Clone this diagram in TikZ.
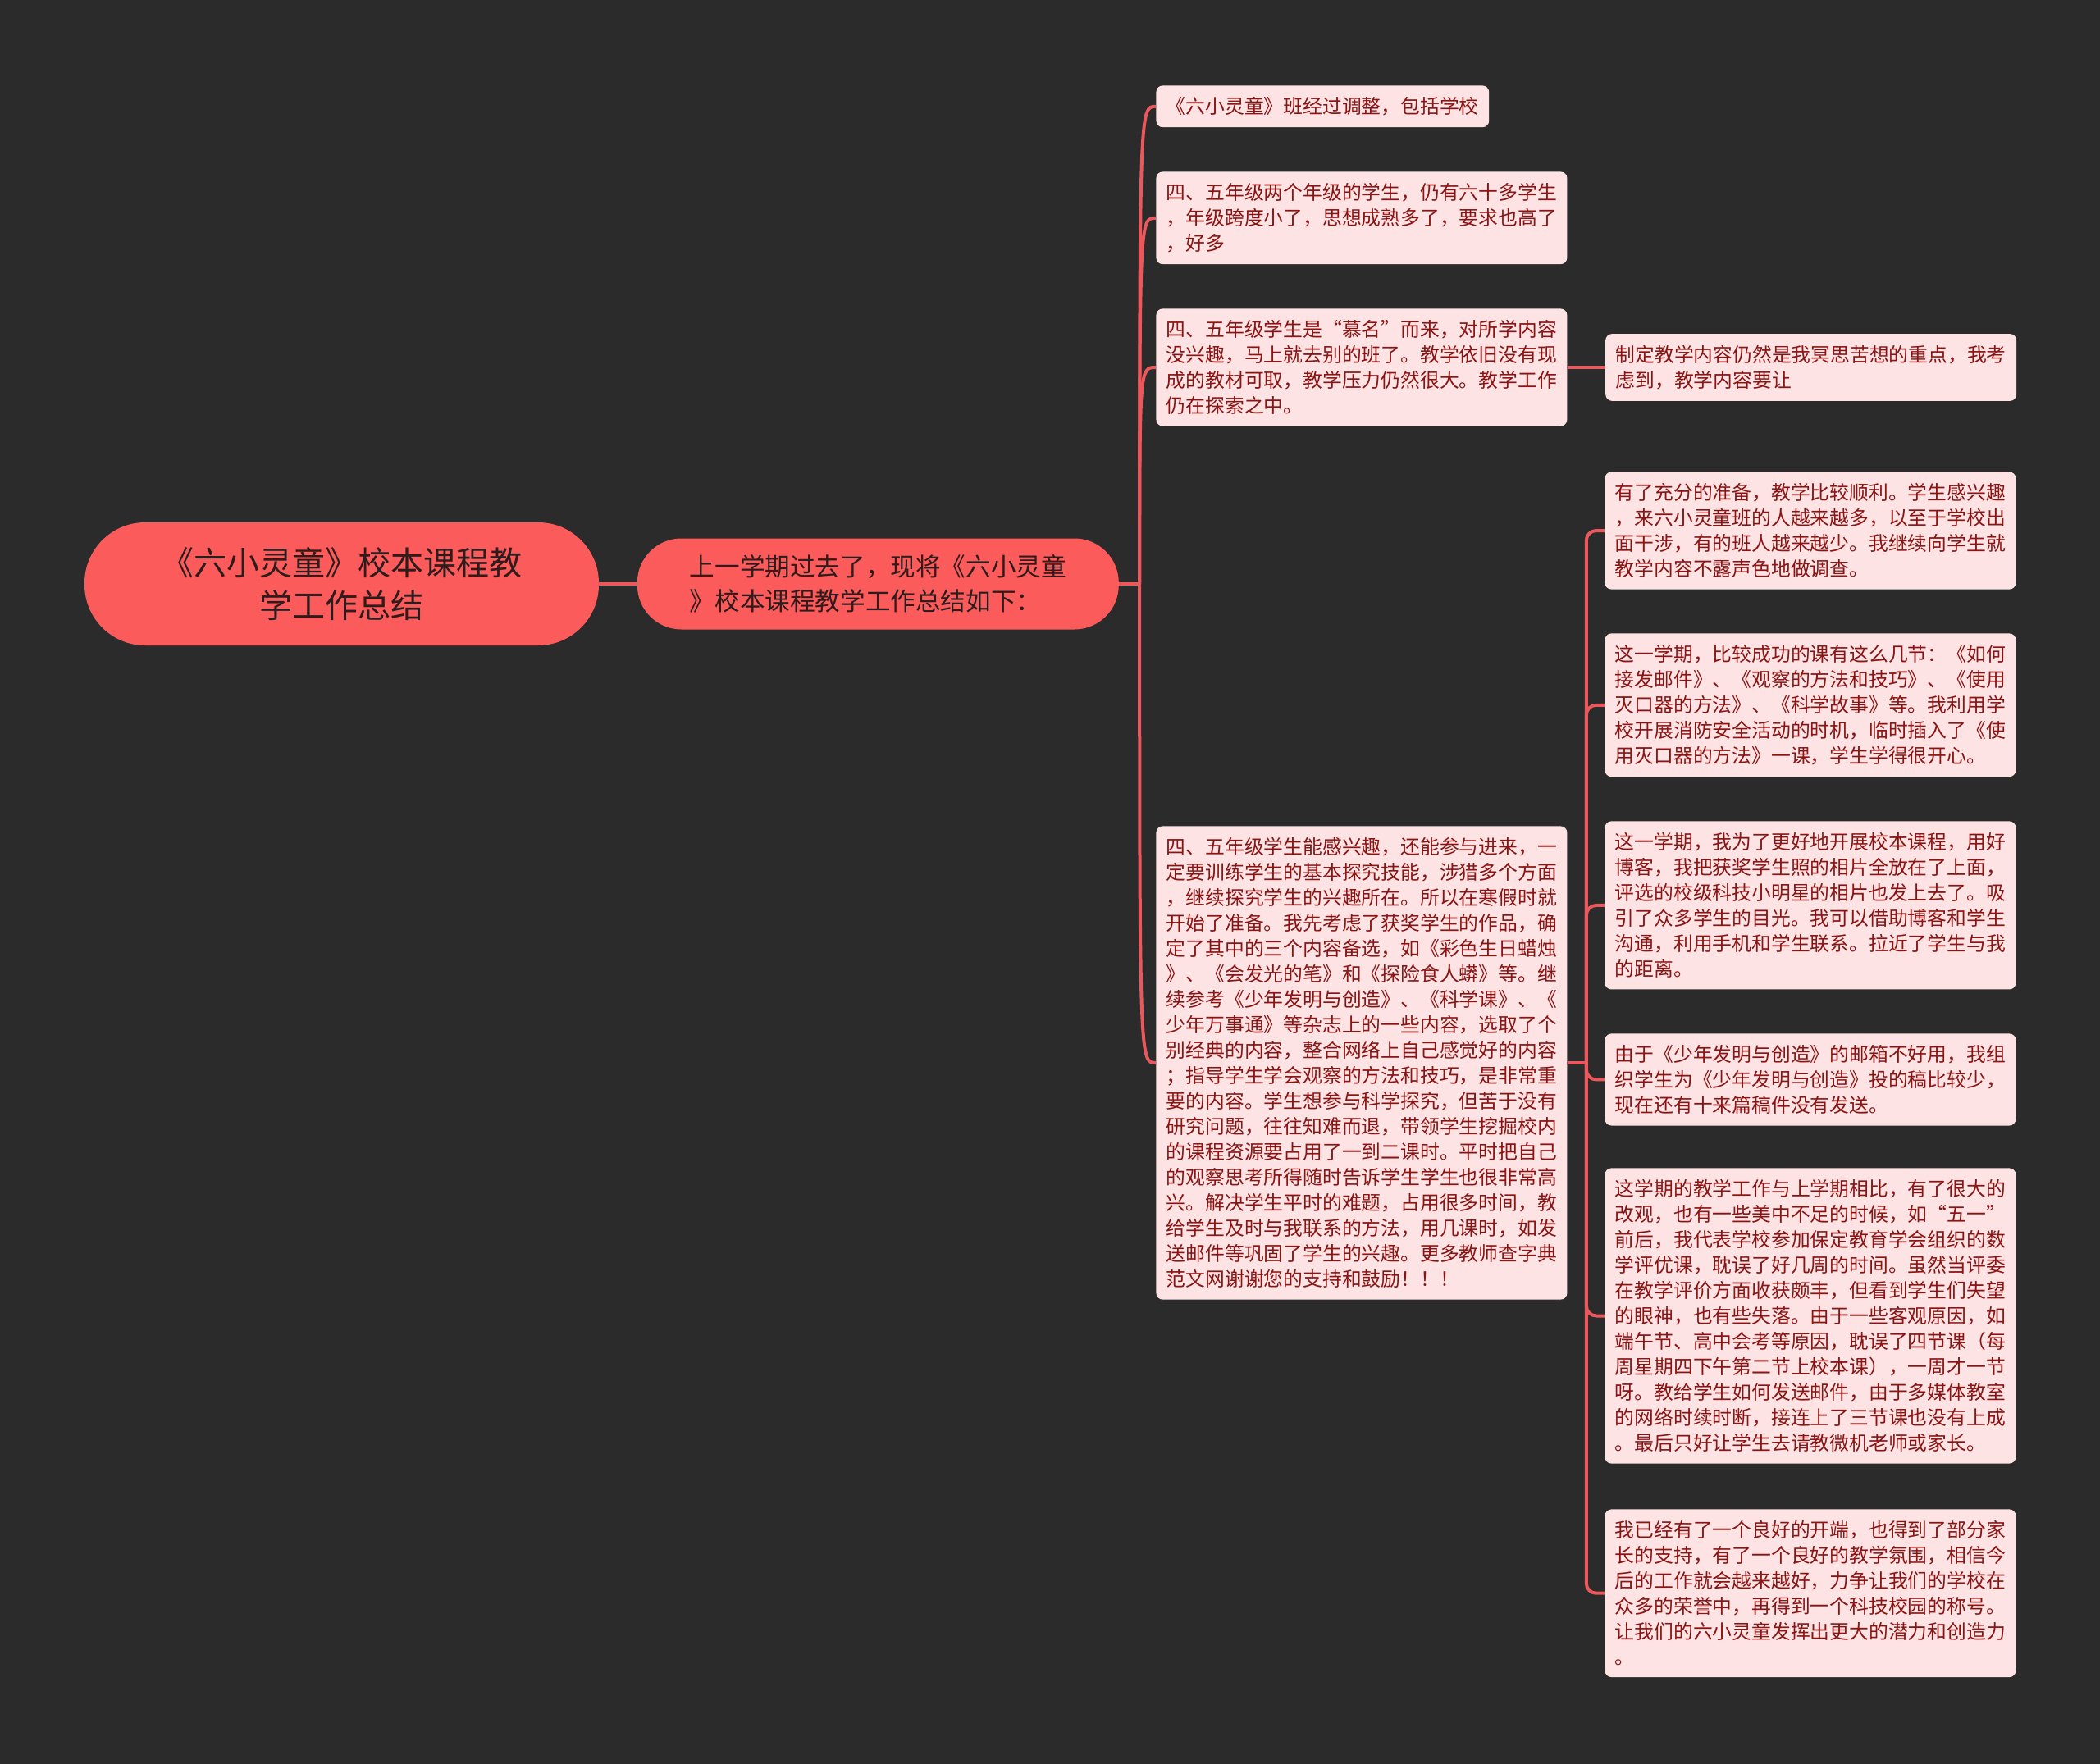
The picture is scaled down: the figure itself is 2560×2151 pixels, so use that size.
\documentclass[tikz,border=0pt]{standalone}
\usepackage{fontspec}
\setmainfont{Noto Sans CJK SC}
\usetikzlibrary{positioning}
\definecolor{bgdark}{HTML}{2B2B2B}
\definecolor{coral}{HTML}{FC5B5B}
\definecolor{wirered}{HTML}{E8585C}
\definecolor{leaffill}{HTML}{FDE3E3}
\definecolor{leaftext}{HTML}{8A1414}
\definecolor{roottext}{HTML}{2E1C1C}

\begin{document}
\begin{tikzpicture}[
    x=0.5pt, y=-0.5pt,
    root/.style ={fill=coral, rounded corners=37pt, align=center,
                  minimum width=313.5pt, minimum height=75pt, text=roottext,
                  font=\fontsize{20pt}{26pt}\selectfont},
    topic/.style={fill=coral, rounded corners=27pt, align=left,
                  minimum width=293.5pt, minimum height=55.5pt, text=roottext,
                  font=\fontsize{15.3pt}{21pt}\selectfont},
    leaf/.style ={fill=leaffill, rounded corners=4pt, align=left,
                  anchor=north west, inner xsep=6.25pt, inner ysep=7pt,
                  text=leaftext, font=\fontsize{11.9pt}{15.5pt}\selectfont},
    wire/.style ={draw=wirered, line width=2pt},
]
\fill[bgdark] (0,0) rectangle (2560,2151);
\useasboundingbox (0,0) rectangle (2560,2151);

\node[root] (root) at (416.5,712) {《六小灵童》校本课程教\\学工作总结};
\node[topic, right=23pt of root] (sum)
  {上一学期过去了，现将《六小灵童\\》校本课程教学工作总结如下：};
\draw[wire] (root.east) -- (sum.west);

% first level
\node[leaf] (c1) at (1409,104) {《六小灵童》班经过调整，包括学校};
\node[leaf] (c2) at (1409,209)
  {四、五年级两个年级的学生，仍有六十多学生\\
   ，年级跨度小了，思想成熟多了，要求也高了\\
   ，好多};
\node[leaf] (c3) at (1409,376)
  {四、五年级学生是“慕名”而来，对所学内容\\
   没兴趣，马上就去别的班了。教学依旧没有现\\
   成的教材可取，教学压力仍然很大。教学工作\\
   仍在探索之中。};
\node[leaf] (c4) at (1409,1007)
  {四、五年级学生能感兴趣，还能参与进来，一\\
   定要训练学生的基本探究技能，涉猎多个方面\\
   ，继续探究学生的兴趣所在。所以在寒假时就\\
   开始了准备。我先考虑了获奖学生的作品，确\\
   定了其中的三个内容备选，如《彩色生日蜡烛\\
   》、《会发光的笔》和《探险食人蟒》等。继\\
   续参考《少年发明与创造》、《科学课》、《\\
   少年万事通》等杂志上的一些内容，选取了个\\
   别经典的内容，整合网络上自己感觉好的内容\\
   ；指导学生学会观察的方法和技巧，是非常重\\
   要的内容。学生想参与科学探究，但苦于没有\\
   研究问题，往往知难而退，带领学生挖掘校内\\
   的课程资源要占用了一到二课时。平时把自己\\
   的观察思考所得随时告诉学生学生也很非常高\\
   兴。解决学生平时的难题，占用很多时间，教\\
   给学生及时与我联系的方法，用几课时，如发\\
   送邮件等巩固了学生的兴趣。更多教师查字典\\
   范文网谢谢您的支持和鼓励！！！};

\coordinate[right=12.5pt of sum.east] (j1);
\draw[wire] (sum.east) -- (j1);
\foreach \c in {c1,c2,c3,c4}
  \draw[wire] (j1) .. controls (j1 |- \c.west) .. (\c.west);

% second level
\node[leaf, right=23pt of c3] (s0)
  {制定教学内容仍然是我冥思苦想的重点，我考\\
   虑到，教学内容要让};
\draw[wire] (c3.east) -- (s0.west);

\node[leaf] (sa) at (1956,575)
  {有了充分的准备，教学比较顺利。学生感兴趣\\
   ，来六小灵童班的人越来越多，以至于学校出\\
   面干涉，有的班人越来越少。我继续向学生就\\
   教学内容不露声色地做调查。};
\node[leaf] (sb) at (1956,772)
  {这一学期，比较成功的课有这么几节：《如何\\
   接发邮件》、《观察的方法和技巧》、《使用\\
   灭口器的方法》、《科学故事》等。我利用学\\
   校开展消防安全活动的时机，临时插入了《使\\
   用灭口器的方法》一课，学生学得很开心。};
\node[leaf] (sc) at (1956,1001)
  {这一学期，我为了更好地开展校本课程，用好\\
   博客，我把获奖学生照的相片全放在了上面，\\
   评选的校级科技小明星的相片也发上去了。吸\\
   引了众多学生的目光。我可以借助博客和学生\\
   沟通，利用手机和学生联系。拉近了学生与我\\
   的距离。};
\node[leaf] (sd) at (1956,1260)
  {由于《少年发明与创造》的邮箱不好用，我组\\
   织学生为《少年发明与创造》投的稿比较少，\\
   现在还有十来篇稿件没有发送。};
\node[leaf] (se) at (1956,1424)
  {这学期的教学工作与上学期相比，有了很大的\\
   改观，也有一些美中不足的时候，如“五一”\\
   前后，我代表学校参加保定教育学会组织的数\\
   学评优课，耽误了好几周的时间。虽然当评委\\
   在教学评价方面收获颇丰，但看到学生们失望\\
   的眼神，也有些失落。由于一些客观原因，如\\
   端午节、高中会考等原因，耽误了四节课（每\\
   周星期四下午第二节上校本课），一周才一节\\
   呀。教给学生如何发送邮件，由于多媒体教室\\
   的网络时续时断，接连上了三节课也没有上成\\
   。最后只好让学生去请教微机老师或家长。};
\node[leaf] (sf) at (1956,1840)
  {我已经有了一个良好的开端，也得到了部分家\\
   长的支持，有了一个良好的教学氛围，相信今\\
   后的工作就会越来越好，力争让我们的学校在\\
   众多的荣誉中，再得到一个科技校园的称号。\\
   让我们的六小灵童发挥出更大的潜力和创造力\\
   。};

\coordinate[right=11.5pt of c4.east] (j2);
\draw[wire] (c4.east) -- (j2);
\foreach \s in {sa,sb,sc,sd,se,sf}
  \draw[wire, rounded corners=6pt] (j2) |- (\s.west);
\end{tikzpicture}
\end{document}
